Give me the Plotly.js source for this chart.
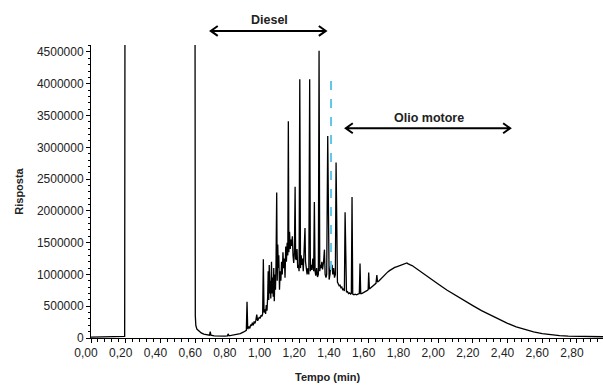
<!DOCTYPE html>
<html>
<head>
<meta charset="utf-8">
<script src="https://cdn.plot.ly/plotly-3.0.1.min.js"></script>
<style>html,body{margin:0;padding:0;background:#fff;}#chart{width:603px;height:386px;}</style>
</head>
<body>
<div id="chart"></div>
<script>
// Retention time (min)
var tempo = [
0.000,0.100,0.190,0.194,0.197,0.598,0.601,0.604,0.610,0.620,0.635,0.650,0.670,0.683,0.687,0.691,0.710,0.740,0.770,0.786,0.790,0.795,0.820,0.840,0.860,0.880,0.895,
0.899,0.903,0.910,0.915,0.920,0.925,0.930,0.935,0.940,0.945,0.950,0.955,0.960,0.965,0.970,0.975,0.980,0.985,0.989,0.993,0.997,
1.002,1.006,1.010,1.014,1.018,1.021,1.024,1.027,1.030,1.033,1.036,1.040,1.043,1.046,1.050,1.053,1.056,1.060,1.063,1.066,1.070,1.073,1.076,1.079,1.082,1.086,1.090,1.094,1.098,
1.102,1.106,1.110,1.114,1.118,1.122,1.126,1.130,1.134,1.137,1.140,1.144,1.148,1.152,1.156,1.160,1.164,1.168,1.172,1.176,1.179,1.183,1.187,1.191,1.195,1.199,
1.203,1.207,1.211,1.215,1.219,1.223,1.227,1.230,1.233,1.236,1.240,1.245,1.250,1.255,1.260,1.264,1.268,1.273,1.278,1.283,1.287,1.291,1.295,1.300,1.305,1.310,
1.314,1.318,1.322,1.326,1.330,1.334,1.340,1.345,1.349,1.354,1.358,1.364,1.368,1.372,1.377,1.381,1.385,1.389,1.393,1.398,1.403,1.408,1.412,1.416,1.420,1.425,1.430,1.435,1.440,1.445,1.450,1.455,1.460,
1.464,1.468,1.472,1.478,1.484,1.490,1.496,1.500,1.504,1.508,1.515,1.522,1.530,1.538,1.546,1.550,1.554,1.560,1.568,1.576,1.584,1.592,1.597,1.600,1.604,1.612,1.620,1.628,1.636,1.642,1.647,1.651,
1.660,1.670,1.680,1.690,1.695,1.700,1.710,1.720,1.730,1.740,1.750,1.760,1.770,1.780,1.790,1.800,1.810,1.820,1.825,1.830,1.840,1.850,1.860,1.870,1.880,1.900,1.920,1.940,1.960,1.980,
2.000,2.050,2.100,2.150,2.200,2.250,2.300,2.350,2.400,2.450,2.500,2.550,2.600,2.650,2.700,2.750,2.800,2.850,2.900,2.960
];
// Detector response
var risposta = [
15000,15000,18000,25000,9000000,9000000,350000,200000,140000,110000,80000,60000,45000,45000,100000,45000,35000,30000,30000,35000,65000,35000,45000,55000,70000,95000,120000,
570000,140000,180000,150000,210000,190000,240000,200000,260000,230000,280000,370000,270000,300000,330000,310000,360000,340000,380000,1240000,400000,
450000,380000,520000,430000,650000,1050000,600000,1150000,700000,900000,620000,1200000,700000,950000,650000,1100000,580000,1000000,760000,1150000,2290000,900000,1470000,1100000,1300000,760000,1050000,900000,1200000,
1000000,1350000,1100000,1250000,950000,1440000,1200000,1500000,1300000,3410000,1350000,1670000,1400000,1550000,1450000,1600000,1300000,1180000,1350000,2380000,1250000,1230000,1400000,1100000,1150000,1050000,
4070000,1100000,1300000,1150000,1250000,1050000,1400000,1300000,1730000,1200000,1050000,1000000,1100000,1000000,4070000,1050000,1150000,1070000,1250000,1050000,2140000,1050000,980000,1100000,960000,1000000,
4520000,1050000,1150000,1100000,1200000,1080000,1200000,1390000,1000000,950000,1000000,3180000,950000,920000,1000000,1150000,1070000,1150000,1000000,1100000,950000,1000000,2760000,920000,880000,850000,820000,830000,790000,800000,760000,770000,740000,
1980000,740000,720000,730000,700000,710000,690000,700000,2220000,690000,680000,690000,680000,690000,700000,1170000,700000,700000,710000,720000,740000,750000,760000,1030000,770000,790000,800000,820000,840000,860000,990000,880000,
900000,930000,960000,990000,1010000,1020000,1040000,1060000,1080000,1100000,1110000,1120000,1130000,1140000,1150000,1150000,1160000,1180000,1170000,1160000,1150000,1140000,1120000,1110000,1090000,1050000,1010000,970000,930000,880000,
850000,755000,670000,590000,510000,430000,360000,295000,230000,175000,130000,95000,70000,50000,37000,28000,23000,20000,19000,19000
];
// Blue dashed marker line
var markerTempo = [1.383, 1.383];
var markerRisposta = [1070000, 4070000];
// Range annotations (min)
var dieselRange = [0.69, 1.353];
var olioRange = [1.468, 2.415];
var labels = {diesel: "Diesel", olio: "Olio motore", x: "Tempo (min)", y: "Risposta"};

var XMAX = 2.95, YMAX = 4610000;
var PLOT_W = 512, PLOT_H = 293.5;
var FONT = '"Liberation Sans", Arial, sans-serif';

function dblArrow(t0, t1, yPaper) {
  var x0 = t0 / XMAX, x1 = t1 / XMAX;
  var dx = 7 / PLOT_W, dy = 5 / PLOT_H;
  var p = 'M ' + (x0 + dx) + ',' + (yPaper + dy) + ' L ' + x0 + ',' + yPaper + ' L ' + (x0 + dx) + ',' + (yPaper - dy) +
          ' M ' + x0 + ',' + yPaper + ' L ' + x1 + ',' + yPaper +
          ' M ' + (x1 - dx) + ',' + (yPaper + dy) + ' L ' + x1 + ',' + yPaper + ' L ' + (x1 - dx) + ',' + (yPaper - dy);
  return {type: 'path', xref: 'paper', yref: 'paper', path: p, line: {color: '#000', width: 2}};
}

var traces = [
  {x: tempo, y: risposta, type: 'scatter', mode: 'lines', line: {color: '#000', width: 1.3}, hoverinfo: 'none', showlegend: false},
  {x: markerTempo, y: markerRisposta, type: 'scatter', mode: 'lines', line: {color: '#62C6EA', width: 2, dash: 'dash'}, hoverinfo: 'none', showlegend: false}
];

var layout = {
  width: 603, height: 386,
  margin: {l: 91, r: 0, t: 45, b: 47.5},
  paper_bgcolor: '#fff', plot_bgcolor: '#fff',
  separators: ',.',
  showlegend: false,
  font: {family: FONT, color: '#222', size: 12},
  xaxis: {
    range: [0, XMAX], dtick: 0.2, tick0: 0, tickformat: '.2f',
    showgrid: false, zeroline: false, showline: true, linecolor: '#000', linewidth: 1,
    ticks: 'outside', ticklen: 4, tickcolor: '#000', tickwidth: 1,
    ticklabelshift: -5,
    minor: {dtick: 0.04, ticks: 'outside', ticklen: 3, tickcolor: '#000', tickwidth: 1},
    tickfont: {family: FONT, size: 12, color: '#222'}
  },
  yaxis: {
    range: [0, YMAX], dtick: 500000, tick0: 0, tickformat: 'd',
    showgrid: false, zeroline: false, showline: true, linecolor: '#000', linewidth: 1,
    ticks: 'outside', ticklen: 4, tickcolor: '#000', tickwidth: 1,
    minor: {dtick: 100000, ticks: 'outside', ticklen: 2, tickcolor: '#000', tickwidth: 1},
    tickfont: {family: FONT, size: 12, color: '#222'},
    title: {text: '<b>' + labels.y + '</b>', font: {family: FONT, size: 11, color: '#222'}, standoff: 11}
  },
  shapes: [dblArrow(dieselRange[0], dieselRange[1], 1.048), dblArrow(olioRange[0], olioRange[1], 0.716)],
  annotations: [
    {text: '<b>' + labels.diesel + '</b>', xref: 'paper', yref: 'paper', x: 1.026 / XMAX, y: 1.085, xanchor: 'center', yanchor: 'middle', showarrow: false, font: {family: FONT, size: 12.5, color: '#222'}},
    {text: '<b>' + labels.olio + '</b>', xref: 'paper', yref: 'paper', x: 1.948 / XMAX, y: 0.751, xanchor: 'center', yanchor: 'middle', showarrow: false, font: {family: FONT, size: 12.5, color: '#222'}},
    {text: '<b>' + labels.x + '</b>', xref: 'paper', yref: 'paper', x: 0.462, y: -0.1346, xanchor: 'center', yanchor: 'middle', showarrow: false, font: {family: FONT, size: 11, color: '#222'}}
  ]
};

Plotly.newPlot('chart', traces, layout, {staticPlot: true, displayModeBar: false});
</script>
</body>
</html>
